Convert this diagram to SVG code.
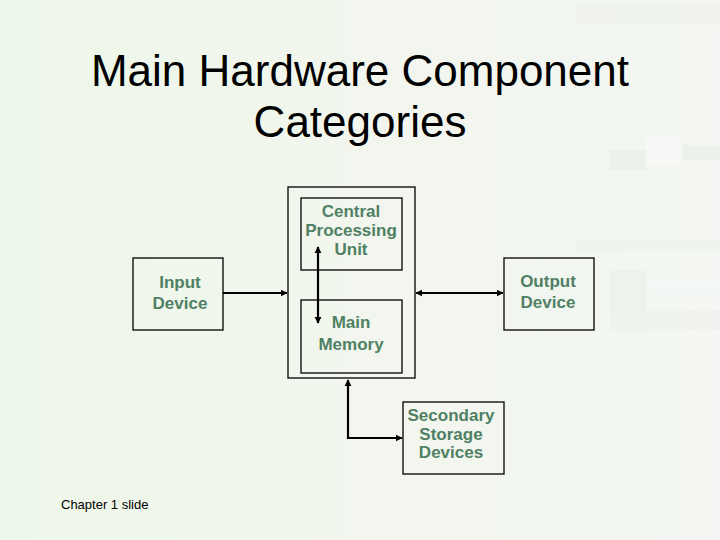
<svg xmlns="http://www.w3.org/2000/svg" width="720" height="540" viewBox="0 0 720 540">
<defs>
<linearGradient id="bg" x1="0" y1="0" x2="1" y2="0">
<stop offset="0" stop-color="#edf7e9"/>
<stop offset="0.5" stop-color="#f2f6ee"/>
<stop offset="1" stop-color="#f3f6f2"/>
</linearGradient>
<marker id="ah" viewBox="0 0 10 10" refX="9" refY="5" markerWidth="3.2" markerHeight="3.2" orient="auto-start-reverse">
<path d="M0,0 L10,5 L0,10 z" fill="#000"/>
</marker>
<style>
.box{fill:none;stroke:#000;stroke-width:1.3}
.lbl{font-family:"Liberation Sans",Arial,sans-serif;font-size:17px;fill:#4f8064;text-anchor:middle;font-weight:bold;stroke:none}
.ttl{font-family:"Liberation Sans",Arial,sans-serif;font-size:44px;fill:#000;text-anchor:middle}
.conn{stroke:#000;stroke-width:2.2;fill:none}
</style>
</defs>
<rect width="720" height="540" fill="url(#bg)"/>
<g opacity="0.35">
<rect x="576" y="5" width="144" height="20" fill="#ecefe6"/>
<rect x="610" y="150" width="36" height="20" fill="#e3e8e2"/>
<rect x="646" y="135" width="36" height="30" fill="#fbfdfb"/>
<rect x="682" y="145" width="38" height="15" fill="#e3e8e3"/>
<rect x="576" y="240" width="144" height="10" fill="#e9eee8"/>
<rect x="610" y="270" width="36" height="60" fill="#e6ece8"/>
<rect x="646" y="280" width="74" height="15" fill="#f8fcfa"/>
<rect x="610" y="310" width="110" height="20" fill="#e8ede7"/>
</g>
<g id="title">
<text class="ttl" x="360" y="86">Main Hardware Component</text>
<text class="ttl" x="360" y="137">Categories</text>
</g>
<g id="connectors">
<line class="conn" x1="223" y1="293" x2="287" y2="293" marker-end="url(#ah)"/>
<line class="conn" x1="416" y1="293" x2="503" y2="293" marker-start="url(#ah)" marker-end="url(#ah)"/>
<line class="conn" x1="318" y1="247" x2="318" y2="323" marker-start="url(#ah)" marker-end="url(#ah)"/>
<polyline class="conn" points="348,380 348,438 402,438" marker-start="url(#ah)" marker-end="url(#ah)"/>
</g>
<g id="cpu-outer">
<rect class="box" x="288" y="187" width="127" height="191"/>
</g>
<g id="cpu">
<rect class="box" x="301" y="198" width="101" height="72"/>
<text class="lbl" x="351" y="217">Central</text>
<text class="lbl" x="351" y="236">Processing</text>
<text class="lbl" x="351" y="255">Unit</text>
</g>
<g id="memory">
<rect class="box" x="301" y="300" width="101" height="73"/>
<text class="lbl" x="351" y="328">Main</text>
<text class="lbl" x="351" y="350">Memory</text>
</g>
<g id="input">
<rect class="box" x="133" y="258" width="90" height="72"/>
<text class="lbl" x="180" y="288">Input</text>
<text class="lbl" x="180" y="309">Device</text>
</g>
<g id="output">
<rect class="box" x="504" y="258" width="90" height="72"/>
<text class="lbl" x="548" y="287">Output</text>
<text class="lbl" x="548" y="308">Device</text>
</g>
<g id="secondary">
<rect class="box" x="403" y="402" width="101" height="72"/>
<text class="lbl" x="451" y="421">Secondary</text>
<text class="lbl" x="451" y="440">Storage</text>
<text class="lbl" x="451" y="458">Devices</text>
</g>
<g id="footer">
<text x="61" y="509" font-family="Liberation Sans, Arial, sans-serif" font-size="13" fill="#000">Chapter 1 slide</text>
</g>
</svg>
